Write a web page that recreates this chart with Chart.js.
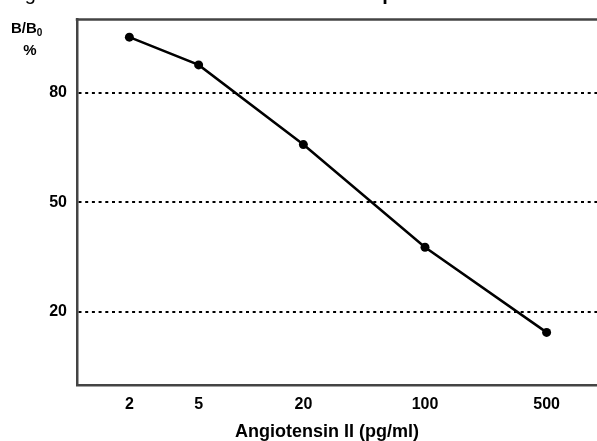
<!DOCTYPE html>
<html>
<head>
<meta charset="utf-8">
<script src="https://cdn.jsdelivr.net/npm/chart.js@4.4.1/dist/chart.umd.min.js"></script>
<style>
	html, body { margin: 0; padding: 0; background: #fff; overflow: hidden; }
	#wrap { width: 597px; height: 441px; overflow: hidden; position: relative; }
	canvas { display: block; }
</style>
</head>
<body>
<div id="wrap"><canvas id="standard-curve" width="610" height="441"></canvas></div>
<script>
	// Nồng độ chuẩn (pg/ml) và B/B0 (%)
	var concentrations = [2, 5, 20, 100, 500];
	var bindingPercent = [95.2, 87.6, 65.8, 37.7, 14.4];

	// Nhãn trục
	var xTickValues = [2, 5, 20, 100, 500];
	var yTickValues = [20, 50, 80];

	var captionLeft = "Figure 1";
	var captionRight = "Example of a Standard Curve";
	var xTitle = "Angiotensin II (pg/ml)";

	var FONT = '"Liberation Sans", Arial, sans-serif';
	Chart.defaults.font.family = FONT;
	Chart.defaults.color = "#000";

	// Vẽ khung trên, chú thích và tiêu đề trục
	var framePlugin = {
		id: "frame",
		afterDraw: function(chart) {
			var ctx = chart.ctx;
			var area = chart.chartArea;
			ctx.save();

			ctx.strokeStyle = "#444";
			ctx.lineWidth = 2.5;
			ctx.beginPath();
			ctx.moveTo(area.left - 1.25, area.top);
			ctx.lineTo(area.right, area.top);
			ctx.stroke();

			ctx.fillStyle = "#000";
			ctx.textBaseline = "alphabetic";

			// chú thích bị cắt ở mép trên
			ctx.textAlign = "left";
			ctx.font = "20px " + FONT;
			ctx.fillText(captionLeft, 8, 0);
			ctx.font = "bold 20px " + FONT;
			ctx.fillText(captionRight, 329, 0);

			// nhãn trục y: B/B0 %
			ctx.font = "bold 15px " + FONT;
			ctx.fillText("B/B", 11, 33);
			var w = ctx.measureText("B/B").width;
			ctx.font = "bold 10px " + FONT;
			ctx.fillText("0", 11 + w, 36);
			ctx.font = "bold 15px " + FONT;
			ctx.textAlign = "center";
			ctx.fillText("%", 30, 55);

			// tiêu đề trục x
			ctx.font = "bold 18px " + FONT;
			ctx.fillText(xTitle, 327, 437);

			ctx.restore();
		}
	};

	var points = concentrations.map(function(c, i) {
		return { x: c, y: bindingPercent[i] };
	});

	var ctx = document.getElementById("standard-curve").getContext("2d");
	var chart = new Chart(ctx, {
		type: "line",
		data: {
			datasets: [
				{
					data: points,
					borderColor: "#000",
					borderWidth: 2.5,
					backgroundColor: "#000",
					pointRadius: 4.5,
					pointBorderWidth: 0,
					tension: 0,
					fill: false
				}
			]
		},
		options: {
			responsive: false,
			animation: false,
			devicePixelRatio: 1,
			layout: { padding: { top: 14, right: 11, left: 0, bottom: 0 } },
			plugins: {
				legend: { display: false },
				tooltip: { enabled: false }
			},
			scales: {
				x: {
					type: "logarithmic",
					min: 1,
					max: 1000,
					afterBuildTicks: function(scale) {
						scale.ticks = xTickValues.map(function(v) { return { value: v }; });
					},
					afterFit: function(scale) { scale.height = 56; },
					ticks: {
						autoSkip: false,
						maxRotation: 0,
						padding: 10,
						font: { size: 16, weight: "bold" },
						callback: function(value) { return String(value); }
					},
					grid: { display: false, drawTicks: false },
					border: { display: true, color: "#444", width: 2.5 }
				},
				y: {
					type: "linear",
					min: 0,
					max: 100,
					afterBuildTicks: function(scale) {
						scale.ticks = yTickValues.map(function(v) { return { value: v }; });
					},
					afterFit: function(scale) { scale.width = 77; },
					ticks: {
						padding: 10,
						font: { size: 16, weight: "bold" },
						callback: function(value) { return String(value); }
					},
					grid: { color: "#000", lineWidth: 2, drawTicks: false },
					border: { display: true, color: "#444", width: 2.5, dash: [3, 3.7] }
				}
			}
		},
		plugins: [framePlugin]
	});
</script>
</body>
</html>
